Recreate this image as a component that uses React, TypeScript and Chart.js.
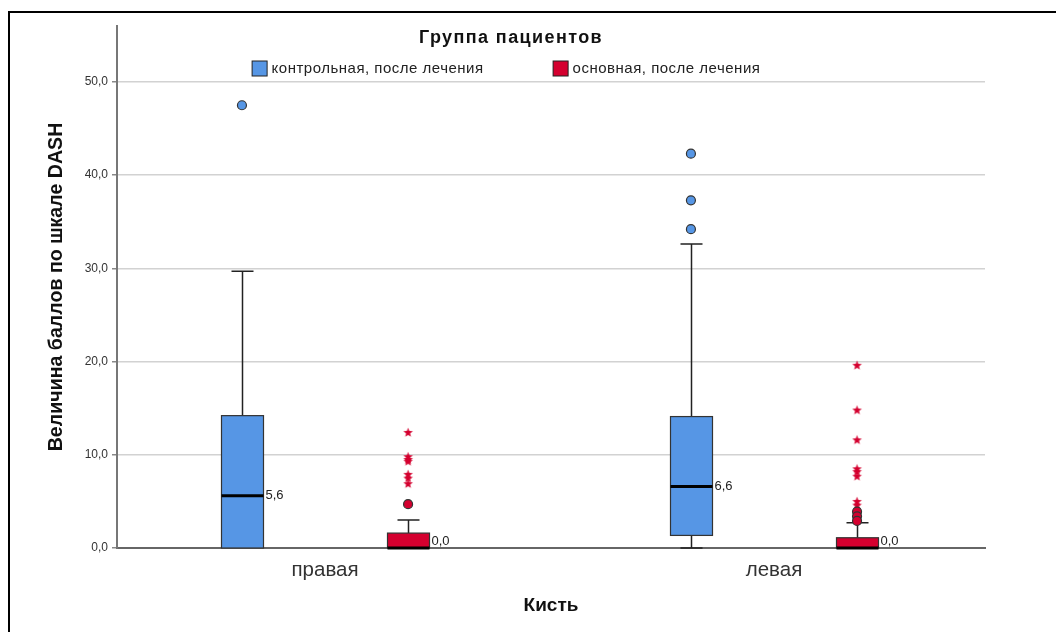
import React, { useEffect, useRef } from "react";
import { Chart, registerables } from "chart.js";

Chart.register(...registerables);

// ---------- data ----------
const categories = ["правая", "левая"];
const groupNames = ["контрольная, после лечения", "основная, после лечения"];
const legendTitle = "Группа пациентов";
const xTitle = "Кисть";
const yTitle = "Величина баллов по шкале DASH";
const yTicks = [0, 10, 20, 30, 40, 50];

// контрольная, после лечения (per category)
const controlMin = [0, 0];
const controlQ1 = [0, 1.35];
const controlMedian = [5.6, 6.6];
const controlQ3 = [14.2, 14.1];
const controlMax = [29.7, 32.6];
const controlOutliers = [[47.5], [42.3, 37.3, 34.2]];
const controlExtremes: number[][] = [[], []];

// основная, после лечения (per category)
const mainMin = [0, 0];
const mainQ1 = [0, 0];
const mainMedian = [0, 0];
const mainQ3 = [1.6, 1.1];
const mainMax = [3.0, 2.7];
const mainOutliers = [[4.7], [3.9, 3.4, 2.9]];
const mainExtremes = [
  [12.4, 9.8, 9.5, 9.3, 7.9, 7.5, 6.9],
  [19.6, 14.8, 11.6, 8.5, 8.2, 7.7, 5.0, 4.6],
];

// ---------- styles ----------
const FONT = "'Liberation Sans', Arial, sans-serif";
const BLUE = "#5696E5";
const RED = "#D4002F";
const GROUP_OFFSET = 0.185;
const BOX_W = 42;
const CAP_W = 22;

const groups = [
  { name: groupNames[0], color: BLUE, min: controlMin, q1: controlQ1, med: controlMedian, q3: controlQ3, max: controlMax, out: controlOutliers, ext: controlExtremes, off: -GROUP_OFFSET },
  { name: groupNames[1], color: RED, min: mainMin, q1: mainQ1, med: mainMedian, q3: mainQ3, max: mainMax, out: mainOutliers, ext: mainExtremes, off: GROUP_OFFSET },
];

const fmt = (v: number) => v.toFixed(1).replace(".", ",");

function makeStar(color: string): HTMLCanvasElement {
  const c = document.createElement("canvas");
  c.width = 11;
  c.height = 11;
  const g = c.getContext("2d")!;
  g.fillStyle = color;
  g.beginPath();
  const cx = 5.5, cy = 5.8, R = 5, r = 2.1;
  for (let i = 0; i < 10; i++) {
    const a = -Math.PI / 2 + (i * Math.PI) / 5;
    const rr = i % 2 === 0 ? R : r;
    const px = cx + rr * Math.cos(a);
    const py = cy + rr * Math.sin(a);
    if (i === 0) g.moveTo(px, py);
    else g.lineTo(px, py);
  }
  g.closePath();
  g.fill();
  return c;
}

const boxPlugin = {
  id: "boxes",
  beforeDatasetsDraw(chart: any) {
    const { ctx, scales } = chart;
    const xs = scales.x, ys = scales.y;
    ctx.save();
    groups.forEach((g) => {
      categories.forEach((_, i) => {
        const x = Math.round(xs.getPixelForValue(i + 1 + g.off)) + 0.5;
        const yMin = ys.getPixelForValue(g.min[i]);
        const yQ1 = ys.getPixelForValue(g.q1[i]);
        const yMed = ys.getPixelForValue(g.med[i]);
        const yQ3 = ys.getPixelForValue(g.q3[i]);
        const yMax = ys.getPixelForValue(g.max[i]);
        ctx.strokeStyle = "#222";
        ctx.lineWidth = 1.5;
        // whiskers
        ctx.beginPath();
        ctx.moveTo(x, yQ3);
        ctx.lineTo(x, yMax);
        ctx.moveTo(x - CAP_W / 2, yMax);
        ctx.lineTo(x + CAP_W / 2, yMax);
        if (g.min[i] < g.q1[i]) {
          ctx.moveTo(x, yQ1);
          ctx.lineTo(x, yMin);
          ctx.moveTo(x - CAP_W / 2, yMin);
          ctx.lineTo(x + CAP_W / 2, yMin);
        }
        ctx.stroke();
        // box
        ctx.fillStyle = g.color;
        ctx.fillRect(x - BOX_W / 2, yQ3, BOX_W, yQ1 - yQ3);
        ctx.lineWidth = 1.2;
        ctx.strokeStyle = "#333";
        ctx.strokeRect(x - BOX_W / 2, yQ3, BOX_W, yQ1 - yQ3);
        // median
        ctx.lineWidth = 3;
        ctx.strokeStyle = "#000";
        ctx.beginPath();
        ctx.moveTo(x - BOX_W / 2, yMed);
        ctx.lineTo(x + BOX_W / 2, yMed);
        ctx.stroke();
        // median label
        ctx.fillStyle = "#222";
        ctx.font = `13px ${FONT}`;
        ctx.textAlign = "left";
        ctx.textBaseline = "middle";
        ctx.fillText(fmt(g.med[i]), x + BOX_W / 2 + 2, g.med[i] === 0 ? yMed - 7 : yMed);
      });
    });
    ctx.restore();
  },
  afterDraw(chart: any) {
    const { ctx } = chart;
    ctx.save();
    // legend title
    const cx = 506;
    ctx.fillStyle = "#111";
    ctx.font = `bold 18px ${FONT}`;
    ctx.letterSpacing = "1.4px";
    ctx.textAlign = "center";
    ctx.textBaseline = "middle";
    ctx.fillText(legendTitle, cx + 5, 38);
    // legend items
    ctx.font = `15px ${FONT}`;
    ctx.letterSpacing = "0.5px";
    const box = 15, gapBox = 5, gapItems = 69;
    const widths = groups.map((g) => box + gapBox + ctx.measureText(g.name).width);
    const total = widths.reduce((a, b) => a + b, 0) + gapItems * (groups.length - 1);
    let x = cx - total / 2;
    const yMid = 68;
    groups.forEach((g, i) => {
      ctx.fillStyle = g.color;
      ctx.fillRect(x + 0.5, yMid - box / 2 + 0.5, box, box);
      ctx.strokeStyle = "#222";
      ctx.lineWidth = 1;
      ctx.strokeRect(x + 0.5, yMid - box / 2 + 0.5, box, box);
      ctx.fillStyle = "#222";
      ctx.textAlign = "left";
      ctx.fillText(g.name, x + box + gapBox, yMid + 1);
      x += widths[i] + gapItems;
    });
    ctx.letterSpacing = "0px";
    // frame
    ctx.fillStyle = "#000";
    ctx.fillRect(8, 11, 1048, 2);
    ctx.fillRect(8, 11, 2, 621);
    ctx.restore();
  },
};

export default function App() {
  const ref = useRef<HTMLCanvasElement | null>(null);

  useEffect(() => {
    document.body.style.margin = "0";
    document.body.style.overflow = "hidden";
    const star = makeStar(RED);
    const datasets: any[] = [];
    groups.forEach((g) => {
      datasets.push({
        label: g.name + " outliers",
        data: g.out.flatMap((vals, i) => vals.map((v) => ({ x: i + 1 + g.off, y: v }))),
        pointStyle: "circle",
        pointRadius: 4.5,
        backgroundColor: g.color,
        borderColor: "#333",
        borderWidth: 1.2,
      });
      datasets.push({
        label: g.name + " extremes",
        data: g.ext.flatMap((vals, i) => vals.map((v) => ({ x: i + 1 + g.off, y: v }))),
        pointStyle: star,
        pointRadius: 5,
        backgroundColor: g.color,
        borderColor: g.color,
      });
    });

    const chart = new Chart(ref.current!, {
      type: "scatter",
      data: { datasets },
      plugins: [boxPlugin],
      options: {
        animation: false,
        responsive: false,
        events: [],
        layout: { padding: { left: 0, top: 26, right: 71, bottom: 0 } },
        plugins: { legend: { display: false }, tooltip: { enabled: false } },
        scales: {
          x: {
            type: "linear",
            min: 0.5367,
            max: 2.47,
            afterBuildTicks: (s: any) => {
              s.ticks = categories.map((_, i) => ({ value: i + 1 }));
            },
            afterFit: (s: any) => {
              s.height = 84;
            },
            ticks: {
              autoSkip: false,
              maxRotation: 0,
              padding: 10,
              color: "#333",
              font: { family: FONT, size: 20.5 },
              callback: (v: any) => categories[Number(v) - 1] ?? "",
            },
            grid: { display: false, drawTicks: false },
            border: { display: true, color: "#666", width: 2 },
            title: {
              display: true,
              text: xTitle,
              color: "#111",
              font: { family: FONT, size: 19, weight: "bold" },
              padding: { top: 0, bottom: 15 },
            },
          },
          y: {
            min: 0,
            max: 56,
            afterBuildTicks: (s: any) => {
              s.ticks = yTicks.map((v) => ({ value: v }));
            },
            afterFit: (s: any) => {
              s.width = 117;
            },
            ticks: {
              padding: 4,
              color: "#333",
              font: { family: FONT, size: 12 },
              callback: (v: any) => fmt(Number(v)),
            },
            grid: { color: "#d2d2d2", lineWidth: 1.5, tickLength: 5, tickColor: "#888", drawTicks: true },
            border: { display: true, color: "#777", width: 2 },
            title: {
              display: true,
              text: yTitle,
              color: "#111",
              font: { family: FONT, size: 19.6, weight: "bold" },
              padding: { top: 45, bottom: 0 },
            },
          },
        },
      },
    } as any);
    return () => chart.destroy();
  }, []);

  return (
    <div style={{ width: 1056, height: 632 }}>
      <canvas ref={ref} width={1056} height={632} style={{ display: "block" }} />
    </div>
  );
}
